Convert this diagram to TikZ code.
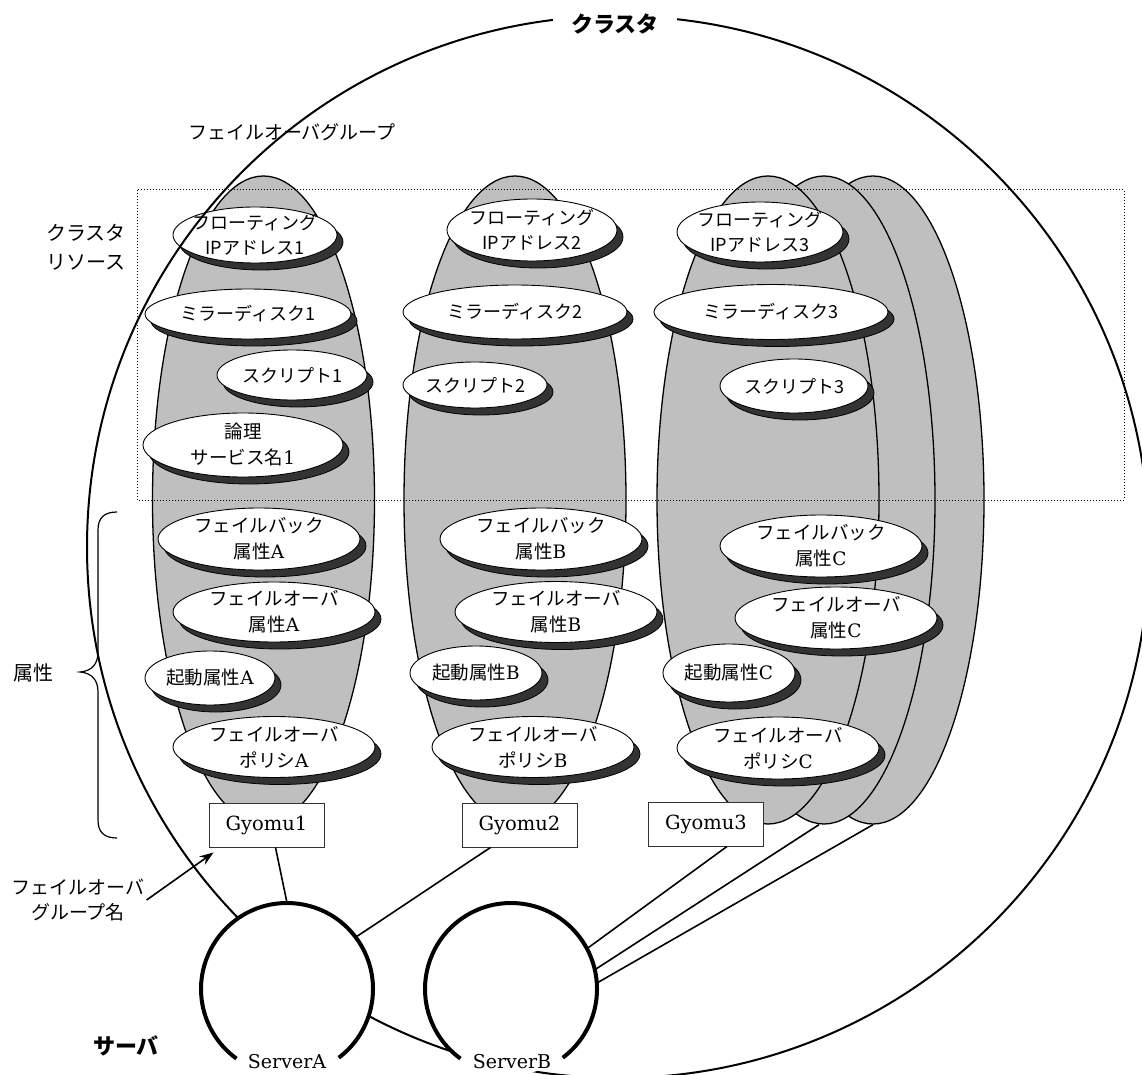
\documentclass[tikz,border=0pt]{standalone}
\usepackage{fontspec}
\usetikzlibrary{shapes.geometric,shadows,arrows.meta}
\newfontfamily\gothic{Noto Sans CJK JP}
\newfontfamily\romanl{DejaVu Serif}

\begin{document}
\begin{tikzpicture}[x=1pt,y=-1pt,
  grp/.style={ellipse, draw=black, line width=1.3pt, fill=black!25,
    minimum width=222pt, minimum height=648pt, inner sep=0pt},
  res/.style={ellipse, draw=black, line width=0.9pt, fill=white, inner sep=0pt,
    drop shadow={shadow xshift=6pt, shadow yshift=-7pt, fill=black!80,
      draw=black, line width=0.8pt, opacity=1}},
  sanst/.style={font=\gothic\fontsize{18}{25}\selectfont, align=center, inner sep=0pt},
  sert/.style={font=\romanl\fontsize{18.5}{26}\selectfont, align=center, inner sep=0pt},
  gbox/.style={rectangle, draw=black!80, line width=0.9pt, fill=white,
    minimum width=115pt, minimum height=44pt, inner sep=0pt,
    font=\romanl\fontsize{19.5}{24}\selectfont},
  srv/.style={circle, minimum size=172pt, inner sep=0pt, fill=white},
  wire/.style={line width=1.6pt},
  lbl/.style={font=\gothic\fontsize{19}{25}\selectfont, align=center, inner sep=0pt},
  srvname/.style={font=\romanl\fontsize{19}{24}\selectfont, inner sep=1pt, fill=white},
]
\useasboundingbox (0,0) rectangle (1142,1075);

% failover groups
\node[grp] (g1) at (263.5,500) {};
\node[grp] (g2) at (515,500) {};
\node[grp] (g3c) at (873,500) {};
\node[grp] (g3b) at (824,500) {};
\node[grp] (g3a) at (768,500) {};

% cluster resource area
\draw[dotted, line width=1pt] (137,190) rectangle (1124,500);

% resources and attributes of group 1
\node[res, minimum width=164pt, minimum height=56pt,
  label={[sanst]center:{フローティング\\IPアドレス1}}] (fip1) at (255,235) {};
\node[res, minimum width=206pt, minimum height=50pt,
  label={[sanst]center:{ミラーディスク1}}] (mir1) at (248,314) {};
\node[res, minimum width=150pt, minimum height=50pt,
  label={[sanst]center:{スクリプト1}}] (scr1) at (292,375) {};
\node[res, minimum width=200pt, minimum height=64pt,
  label={[sert]center:{{\gothic 論理}\\{\gothic サービス名}1}}] (ron1) at (243,445) {};
\node[res, minimum width=202pt, minimum height=62pt,
  label={[sert]center:{{\gothic フェイルバック}\\{\gothic 属性}A}}] (fb1) at (259,539) {};
\node[res, minimum width=202pt, minimum height=60pt,
  label={[sert]center:{{\gothic フェイルオーバ}\\{\gothic 属性}A}}] (fo1) at (274,612) {};
\node[res, minimum width=130pt, minimum height=54pt,
  label={[sert]center:{{\gothic 起動属性}A}}] (kd1) at (210,678) {};
\node[res, minimum width=202pt, minimum height=61pt,
  label={[sert]center:{{\gothic フェイルオーバ}\\{\gothic ポリシ}A}}] (fp1) at (274,747) {};
\node[gbox] (gy1) at (266.5,825) {Gyomu1};

% group 2
\node[res, minimum width=170pt, minimum height=62pt,
  label={[sanst]center:{フローティング\\IPアドレス2}}] (fip2) at (532,230) {};
\node[res, minimum width=224pt, minimum height=54pt,
  label={[sanst]center:{ミラーディスク2}}] (mir2) at (515,312) {};
\node[res, minimum width=144pt, minimum height=46pt,
  label={[sanst]center:{スクリプト2}}] (scr2) at (475,385) {};
\node[res, minimum width=202pt, minimum height=62pt,
  label={[sert]center:{{\gothic フェイルバック}\\{\gothic 属性}B}}] (fb2) at (541,539) {};
\node[res, minimum width=202pt, minimum height=61pt,
  label={[sert]center:{{\gothic フェイルオーバ}\\{\gothic 属性}B}}] (fo2) at (556,612) {};
\node[res, minimum width=132pt, minimum height=54pt,
  label={[sert]center:{{\gothic 起動属性}B}}] (kd2) at (476,673) {};
\node[res, minimum width=202pt, minimum height=61pt,
  label={[sert]center:{{\gothic フェイルオーバ}\\{\gothic ポリシ}B}}] (fp2) at (533,747) {};
\node[gbox] (gy2) at (519.5,825) {Gyomu2};

% group 3
\node[res, minimum width=166pt, minimum height=60pt,
  label={[sanst]center:{フローティング\\IPアドレス3}}] (fip3) at (760,232) {};
\node[res, minimum width=234pt, minimum height=55pt,
  label={[sanst]center:{ミラーディスク3}}] (mir3) at (771,312) {};
\node[res, minimum width=148pt, minimum height=54pt,
  label={[sanst]center:{スクリプト3}}] (scr3) at (794,386) {};
\node[res, minimum width=202pt, minimum height=62pt,
  label={[sert]center:{{\gothic フェイルバック}\\{\gothic 属性}C}}] (fb3) at (821,546) {};
\node[res, minimum width=202pt, minimum height=62pt,
  label={[sert]center:{{\gothic フェイルオーバ}\\{\gothic 属性}C}}] (fo3) at (836,618) {};
\node[res, minimum width=132pt, minimum height=58pt,
  label={[sert]center:{{\gothic 起動属性}C}}] (kd3) at (729,673) {};
\node[res, minimum width=202pt, minimum height=62pt,
  label={[sert]center:{{\gothic フェイルオーバ}\\{\gothic ポリシ}C}}] (fp3) at (778,748) {};
\node[gbox] (gy3) at (706,824) {Gyomu3};

% side labels
\node[lbl] (fog) at (292,132) {フェイルオーバグループ};
\node[lbl, font=\gothic\fontsize{20}{29}\selectfont] (cres) at (86,247) {クラスタ\\リソース};
\node[lbl, font=\gothic\fontsize{20}{25}\selectfont] (attr) at (33,673) {属性};
\draw[line width=1.2pt] (117,512) .. controls (104,512) and (98,518) .. (98,530)
  -- (98,652) .. controls (98,664) and (92,671) .. (80,672)
  .. controls (92,673) and (98,680) .. (98,692)
  -- (98,820) .. controls (98,832) and (104,838) .. (117,838);

% cluster boundary
\draw[line width=2pt] (618,547) circle[radius=531];
\node[fill=white, inner xsep=18pt, inner ysep=4pt,
  font=\gothic\bfseries\fontsize{22}{26}\selectfont] (cl) at (615,24) {クラスタ};

% servers
\node[srv] (srvA) at (287,989) {};
\node[srv] (srvB) at (511,989) {};

\draw[wire] ([xshift=9pt]gy1.south) -- (srvA.north);
\draw[wire] ([xshift=-29pt]gy2.south) -- (srvA.37);
\draw[wire] ([xshift=21pt]gy3.south) -- (srvB.28);
\draw[wire] ([xshift=-5pt]g3b.south) -- (srvB.13);
\draw[wire] (g3c.south) -- (srvB.4);

\draw[line width=4pt] (srvA.center) ++(53:86) arc[start angle=53, end angle=-234, radius=86];
\draw[line width=4pt] (srvB.center) ++(53:86) arc[start angle=53, end angle=-234, radius=86];
\node[srvname] (lA) at (287,1062) {ServerA};
\node[srvname] (lB) at (512,1062) {ServerB};
\node[lbl, font=\gothic\bfseries\fontsize{22}{26}\selectfont] (srvlbl) at (126,1046) {サーバ};

% group name pointer
\node[lbl] (fgn) at (78,900) {フェイルオーバ\\グループ名};
\draw[wire, -{Stealth[length=14pt, width=10pt]}] ([xshift=2pt]fgn.east) -- ([shift={(5,5)}]gy1.south west);

\end{tikzpicture}
\end{document}
